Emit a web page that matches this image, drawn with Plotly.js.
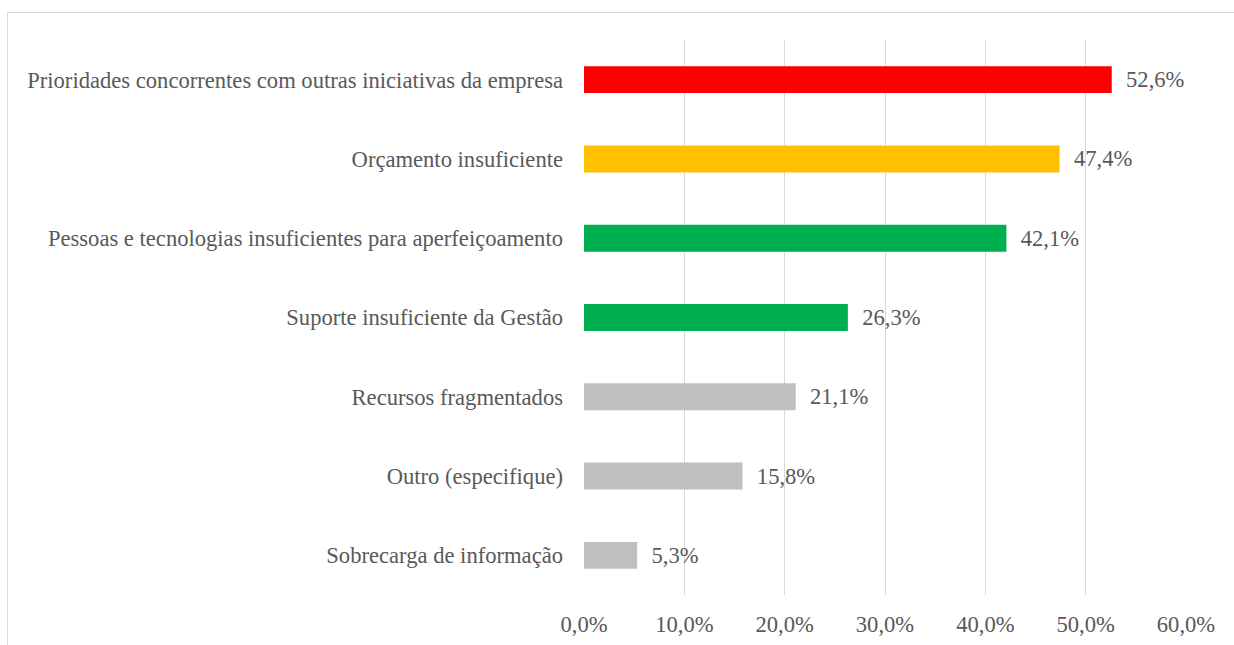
<!DOCTYPE html>
<html><head><meta charset="utf-8">
<script src="https://cdn.plot.ly/plotly-3.0.1.min.js"></script>
<style>body{margin:0;background:#fff}#frame{position:absolute;left:7px;top:12px;width:1300px;height:700px;border:1px solid #d9d9d9;pointer-events:none}</style>
</head><body>
<div id="chart" style="width:1234px;height:645px"></div>
<div id="frame"></div>
<script>
const categories = [
  "Prioridades concorrentes com outras iniciativas da empresa",
  "Orçamento insuficiente",
  "Pessoas e tecnologias insuficientes para aperfeiçoamento",
  "Suporte insuficiente da Gestão",
  "Recursos fragmentados",
  "Outro (especifique)",
  "Sobrecarga de informação"
];
const values = [52.6, 47.4, 42.1, 26.3, 21.1, 15.8, 5.3];
const colors = ["#FF0000", "#FFC000", "#00B050", "#00B050", "#BFBFBF", "#BFBFBF", "#BFBFBF"];
const tickVals = [0, 10, 20, 30, 40, 50, 60];
const tickText = ["0,0%", "10,0%", "20,0%", "30,0%", "40,0%", "50,0%", "60,0%"];

const font = {family: "Liberation Serif, Times New Roman, serif", size: 22.6, color: "#595959"};

Plotly.newPlot("chart", [{
  type: "bar", orientation: "h",
  x: values, y: categories,
  marker: {color: colors},
  text: values.map(v => "\u2002" + v.toFixed(1).replace(".", ",") + "%"),
  textposition: "outside", cliponaxis: false,
  textfont: font,
  hoverinfo: "skip"
}], {
  width: 1234, height: 645,
  margin: {l: 583.5, r: 48, t: 40, b: 50},
  separators: ",.",
  bargap: 0.66,
  showlegend: false,
  paper_bgcolor: "#fff", plot_bgcolor: "#fff",
  font: font,
  xaxis: {range: [0, 60], tickmode: "array", tickvals: tickVals, ticktext: tickText,
          showgrid: true, gridcolor: "#d9d9d9", gridwidth: 1, zeroline: false,
          showline: false, ticks: "", ticklabelstandoff: 13, tickfont: font, fixedrange: true},
  yaxis: {autorange: "reversed", showgrid: false, zeroline: false, showline: false,
          ticks: "", ticklabelstandoff: 20, tickfont: font, fixedrange: true}
}, {displayModeBar: false, staticPlot: true});
</script>
</body></html>
